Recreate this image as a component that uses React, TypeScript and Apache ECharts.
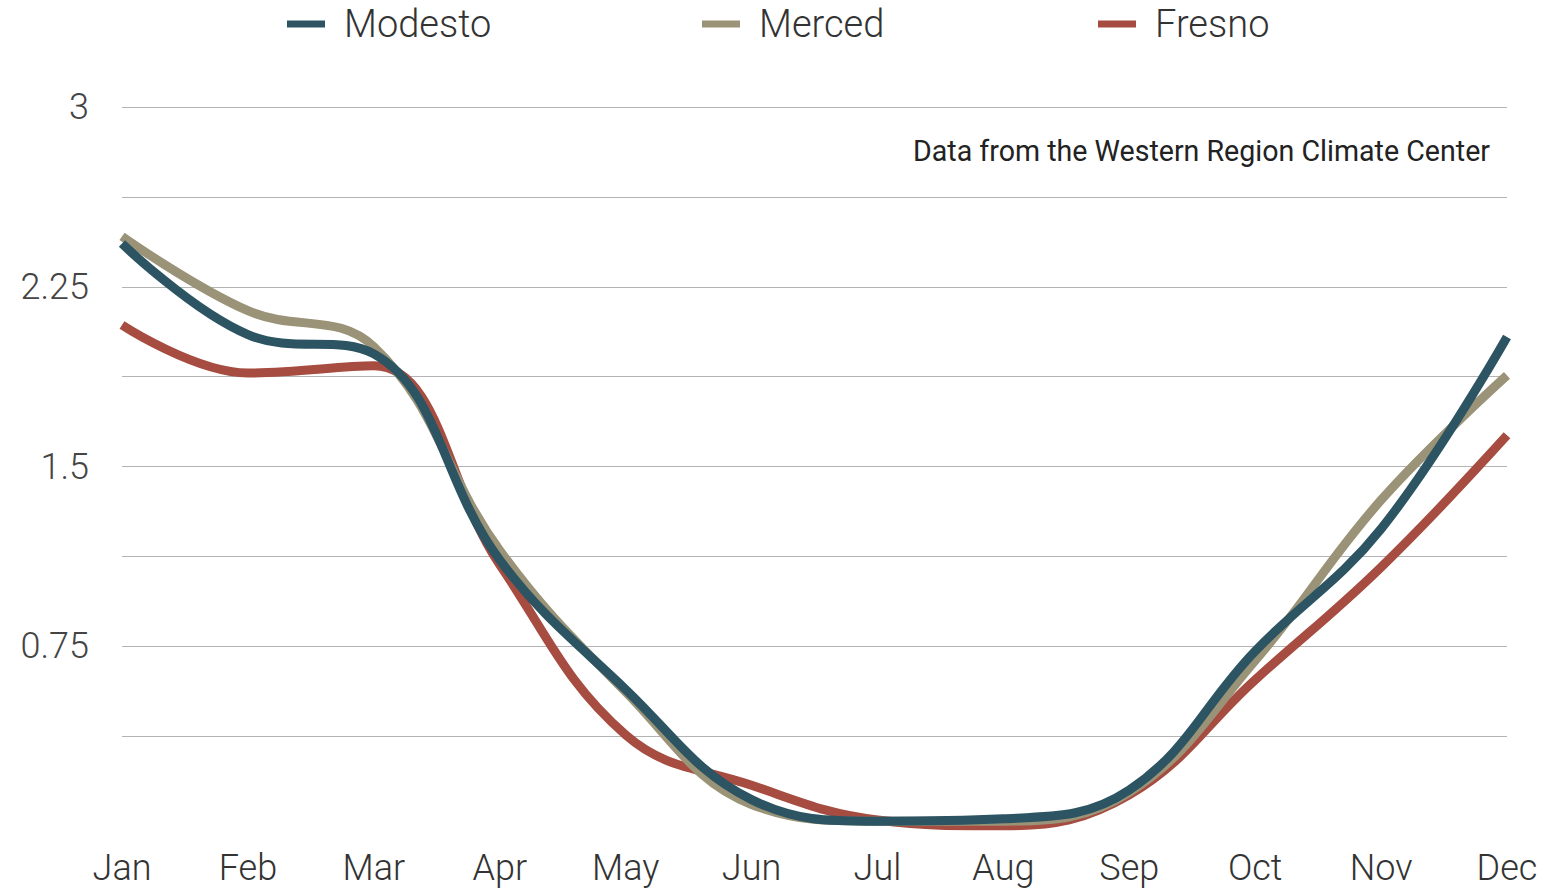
import React, { useEffect, useRef } from "react";
import * as echarts from "echarts";

const months = ["Jan", "Feb", "Mar", "Apr", "May", "Jun", "Jul", "Aug", "Sep", "Oct", "Nov", "Dec"];
const modesto = [2.43, 2.05, 1.97, 1.11, 0.57, 0.11, 0.02, 0.03, 0.15, 0.73, 1.24, 2.04];
const merced = [2.46, 2.15, 2.0, 1.15, 0.56, 0.09, 0.02, 0.02, 0.14, 0.69, 1.36, 1.88];
const fresno = [2.09, 1.89, 1.92, 1.09, 0.38, 0.17, 0.025, 0.0, 0.13, 0.61, 1.08, 1.63];
const seriesNames = ["Modesto", "Merced", "Fresno"];
const seriesColors = ["#2c5462", "#9a9377", "#a64c40"];
const yLabels = [0.75, 1.5, 2.25, 3];
const note = "Data from the Western Region Climate Center";

const FONT = "Roboto, 'Open Sans', 'Liberation Sans', sans-serif";

export default function App() {
  const ref = useRef<HTMLDivElement>(null);
  useEffect(() => {
    if (!ref.current) return;
    const chart = echarts.init(ref.current, undefined, { renderer: "svg" });
    const data = [modesto, merced, fresno];
    const legendLefts = [282, 697, 1093];
    const gridColors = ["rgba(0,0,0,0)"].concat(Array(8).fill("#b4b4b4"));
    chart.setOption({
      animation: false,
      backgroundColor: "#ffffff",
      textStyle: { fontFamily: FONT },
      legend: seriesNames.map((n, i) => ({
        data: [n],
        left: legendLefts[i],
        top: 0,
        icon: "rect",
        itemWidth: 38,
        itemHeight: 7,
        itemGap: 0,
        textStyle: { fontSize: 38, fontWeight: 300, color: "#333", fontFamily: FONT, padding: [0, 0, 0, 14] },
      })),
      grid: { left: 122, right: 40, top: 107, bottom: 64, containLabel: false },
      xAxis: {
        type: "category",
        data: months,
        boundaryGap: false,
        axisLine: { show: false },
        axisTick: { show: false },
        splitLine: { show: false },
        axisLabel: { fontSize: 36, fontWeight: 300, color: "#333", margin: 24, fontFamily: FONT },
      },
      yAxis: {
        type: "value",
        min: 0,
        max: 3,
        interval: 0.375,
        axisLine: { show: false },
        axisTick: { show: false },
        splitLine: { show: true, lineStyle: { color: gridColors, width: 1 } },
        axisLabel: {
          fontSize: 36,
          fontWeight: 300,
          color: "#444",
          margin: 33,
          fontFamily: FONT,
          formatter: (v: number) => (yLabels.some((y) => Math.abs(y - v) < 1e-6) ? String(v) : ""),
        },
      },
      graphic: [
        {
          type: "text",
          right: 57,
          top: 136,
          style: { text: note, fill: "#222", font: `28.6px ${FONT}` },
        },
      ],
      series: seriesNames.map((n, i) => ({
        name: n,
        type: "line",
        data: data[i],
        smooth: 0.4,
        showSymbol: false,
        symbol: "none",
        z: 4 - i,
        color: seriesColors[i],
        lineStyle: { width: 9, color: seriesColors[i] },
      })),
    });
    return () => chart.dispose();
  }, []);
  return <div ref={ref} style={{ position: "fixed", left: 0, top: 0, width: 1547, height: 890 }} />;
}
